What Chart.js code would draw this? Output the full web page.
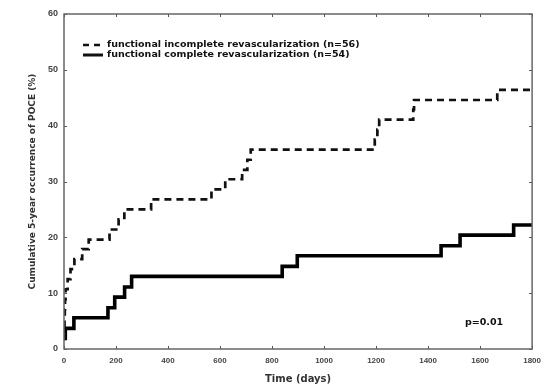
<!DOCTYPE html>
<html>
<head>
<meta charset="utf-8">
<script src="https://cdn.jsdelivr.net/npm/chart.js@4"></script>
<style>
  html, body { margin: 0; padding: 0; background: #fff; }
  #wrap { width: 548px; height: 386px; }
</style>
</head>
<body>
<div id="wrap"><canvas id="myChart" width="548" height="386"></canvas></div>
<script>
// Event times (days) and cumulative occurrence (%)
const incompleteDays = [0, 1, 2, 3, 4, 6, 14, 25, 40, 70, 95, 175, 210, 232, 335, 567, 620, 685, 705, 718, 1195, 1205, 1212, 1343, 1346, 1666, 1800];
const incompleteVals = [1.8, 3.6, 5.4, 7.1, 8.9, 10.7, 12.5, 14.3, 16.1, 17.9, 19.6, 21.4, 23.2, 25.0, 26.8, 28.6, 30.4, 32.1, 33.9, 35.7, 37.5, 39.3, 41.1, 42.9, 44.6, 46.4, 46.4];

const completeDays = [0, 5, 38, 169, 195, 233, 260, 839, 897, 1450, 1523, 1729, 1800];
const completeVals = [1.9, 3.7, 5.6, 7.4, 9.3, 11.1, 13.0, 14.8, 16.7, 18.5, 20.4, 22.2, 22.2];

const seriesLabels = ['functional incomplete revascularization (n=56)', 'functional complete revascularization (n=54)'];
const xTicks = [0, 200, 400, 600, 800, 1000, 1200, 1400, 1600, 1800];
const yTicks = [0, 10, 20, 30, 40, 50, 60];
const pValueText = 'p=0.01';

const FONT = '"DejaVu Sans", Verdana, sans-serif';
const TICK_FONT = '"Liberation Sans", Arial, sans-serif';

function toPoints(days, vals) {
  return days.map((d, i) => ({ x: d, y: vals[i] }));
}

// inward tick marks on all four sides, frame, legend and p value
const decorPlugin = {
  id: 'decor',
  afterDraw(chart) {
    const ctx = chart.ctx;
    const a = chart.chartArea;
    const xs = chart.scales.x, ys = chart.scales.y;
    ctx.save();
    ctx.strokeStyle = '#555';
    ctx.lineWidth = 1;
    xTicks.forEach(t => {
      const px = Math.round(xs.getPixelForValue(t)) + 0.5;
      ctx.beginPath();
      ctx.moveTo(px, a.bottom); ctx.lineTo(px, a.bottom - 3);
      ctx.moveTo(px, a.top); ctx.lineTo(px, a.top + 3);
      ctx.stroke();
    });
    yTicks.forEach(t => {
      const py = Math.round(ys.getPixelForValue(t)) + 0.5;
      ctx.beginPath();
      ctx.moveTo(a.left, py); ctx.lineTo(a.left + 3, py);
      ctx.moveTo(a.right, py); ctx.lineTo(a.right - 3, py);
      ctx.stroke();
    });
    ctx.strokeStyle = '#666';
    ctx.lineWidth = 1.5;
    ctx.strokeRect(a.left, a.top, a.right - a.left, a.bottom - a.top);

    // legend
    ctx.font = 'bold 9.5px ' + FONT;
    ctx.fillStyle = '#111';
    ctx.textBaseline = 'middle';
    ctx.textAlign = 'left';
    const lx = 83, rows = [45, 55];
    ctx.strokeStyle = '#111';
    ctx.lineWidth = 2.5;
    ctx.setLineDash([6, 5]);
    ctx.beginPath(); ctx.moveTo(lx, rows[0]); ctx.lineTo(lx + 20, rows[0]); ctx.stroke();
    ctx.setLineDash([]);
    ctx.lineWidth = 3;
    ctx.beginPath(); ctx.moveTo(lx, rows[1]); ctx.lineTo(lx + 20, rows[1]); ctx.stroke();
    ctx.fillText(seriesLabels[0], lx + 24, rows[0]);
    ctx.fillText(seriesLabels[1], lx + 24, rows[1]);

    ctx.fillText(pValueText, 465, 323);
    ctx.restore();
  }
};

const ctx = document.getElementById('myChart').getContext('2d');
new Chart(ctx, {
  type: 'line',
  data: {
    datasets: [
      {
        label: seriesLabels[0],
        data: toPoints(incompleteDays, incompleteVals),
        stepped: true,
        borderColor: '#111',
        borderWidth: 2.7,
        borderDash: [7, 5],
        pointRadius: 0,
        fill: false,
      },
      {
        label: seriesLabels[1],
        data: toPoints(completeDays, completeVals),
        stepped: true,
        borderColor: '#000',
        borderWidth: 3.6,
        pointRadius: 0,
        fill: false,
      },
    ],
  },
  options: {
    responsive: false,
    animation: false,
    layout: { padding: { top: 14, right: 12, left: 0, bottom: 0 } },
    scales: {
      x: {
        type: 'linear',
        min: 0,
        max: 1800,
        afterBuildTicks: s => { s.ticks = xTicks.map(v => ({ value: v })); },
        afterFit: s => { s.height = 37; },
        grid: { display: false, drawTicks: false },
        border: { display: false },
        ticks: {
          color: '#444',
          font: { family: TICK_FONT, size: 8, weight: 'bold' },
          padding: 7,
          maxRotation: 0,
          callback: v => String(v),
        },
        title: { display: true, text: 'Time (days)', color: '#333', font: { family: FONT, size: 10, weight: 'bold' }, padding: { top: 0, bottom: 1 } },
      },
      y: {
        min: 0,
        max: 60,
        afterBuildTicks: s => { s.ticks = yTicks.map(v => ({ value: v })); },
        afterFit: s => { s.width = 64; },
        grid: { display: false, drawTicks: false },
        border: { display: false },
        ticks: { color: '#444', font: { family: TICK_FONT, size: 9, weight: 'bold' }, padding: 6 },
        title: { display: true, text: 'Cumulative 5-year occurrence of POCE (%)', color: '#333', font: { family: FONT, size: 9, weight: 'bold' }, padding: { top: 27, bottom: 0 } },
      },
    },
    plugins: {
      legend: { display: false },
      tooltip: { enabled: false },
    },
  },
  plugins: [decorPlugin],
});
</script>
</body>
</html>
